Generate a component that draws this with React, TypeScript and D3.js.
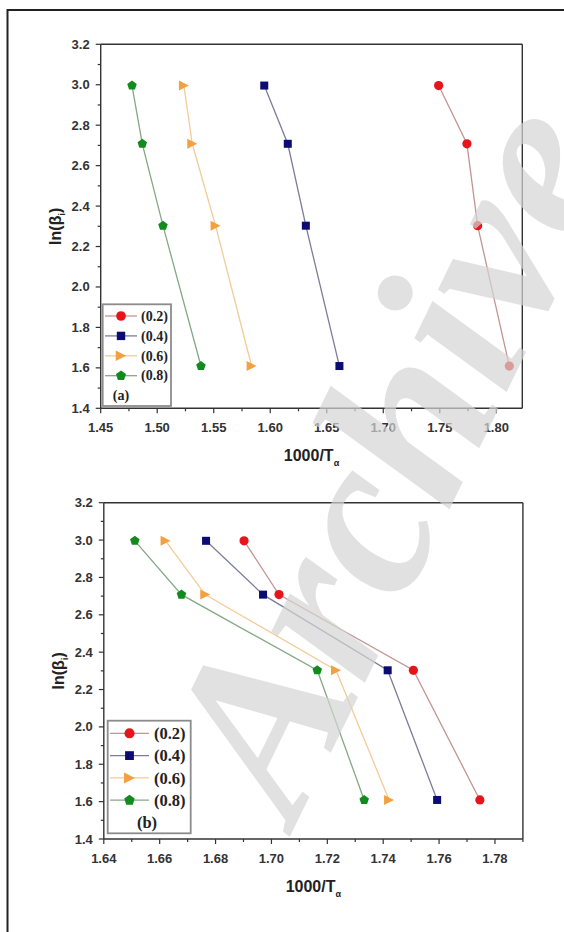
import React from "react";
import * as d3 from "d3";

// ---- data ----
const lnBeta = [2.996, 2.708, 2.303, 1.609];
const seriesNames = ["(0.2)", "(0.4)", "(0.6)", "(0.8)"];
const a02 = [1.749, 1.774, 1.7835, 1.8115];
const a04 = [1.5947, 1.6155, 1.6315, 1.6612];
const a06 = [1.5236, 1.531, 1.5516, 1.5835];
const a08 = [1.4777, 1.4868, 1.5051, 1.5387];
const b02 = [1.6902, 1.7027, 1.7508, 1.7746];
const b04 = [1.6766, 1.697, 1.7416, 1.7593];
const b06 = [1.6621, 1.6763, 1.7231, 1.7421];
const b08 = [1.6511, 1.6678, 1.7164, 1.7332];
const yTicks = [1.4, 1.6, 1.8, 2.0, 2.2, 2.4, 2.6, 2.8, 3.0, 3.2];
const xTicksA = [1.45, 1.5, 1.55, 1.6, 1.65, 1.7, 1.75, 1.8];
const xTicksB = [1.64, 1.66, 1.68, 1.7, 1.72, 1.74, 1.76, 1.78];

const markerColors = ["#e8141c", "#0b0b73", "#f3a140", "#128a1e"];
const lineColors = ["#c49494", "#7c7c9c", "#f2cc98", "#84a884"];
const shapes = ["circle", "square", "triangle", "pentagon"];

const AXIS = "#333";
const SANS = "'Liberation Sans', Arial, sans-serif";
const SERIF = "'Liberation Serif', 'Times New Roman', serif";

function Marker({ shape, x, y, color, s = 1 }: any) {
  if (shape === "circle") return <circle cx={x} cy={y} r={4.6 * s} fill={color} />;
  if (shape === "square")
    return <rect x={x - 4 * s} y={y - 4 * s} width={8 * s} height={8 * s} fill={color} />;
  if (shape === "triangle") {
    const h = 5 * s;
    return <path d={`M${x - h},${y - h}L${x + h},${y}L${x - h},${y + h}Z`} fill={color} />;
  }
  const pts = d3.range(5).map((i) => {
    const a = -Math.PI / 2 + (i * 2 * Math.PI) / 5;
    return `${x + 5 * s * Math.cos(a)},${y + 5 * s * Math.sin(a)}`;
  });
  return <polygon points={pts.join(" ")} fill={color} />;
}

function Panel({ xDomain, xRange, yRange, xTicks, xMinorStep, xFmt, series, legend }: any) {
  const x = d3.scaleLinear().domain(xDomain).range(xRange);
  const y = d3.scaleLinear().domain([1.4, 3.2]).range(yRange);
  const [x0, x1] = xRange;
  const [yb, yt] = yRange;
  const xMinor = d3.range(xDomain[0], xDomain[1] + 1e-9, xMinorStep);
  const yMinor = d3.range(1.4, 3.2 + 1e-9, 0.1);
  const line = d3
    .line<number>()
    .x((d) => x(d))
    .y((_, i) => y(lnBeta[i]));
  const cx = (x0 + x1) / 2;
  const cy = (yb + yt) / 2;
  return (
    <g>
      <line x1={x0} x2={x1} y1={yt} y2={yt} stroke={AXIS} strokeWidth={1.6} />
      <line x1={x1} x2={x1} y1={yt} y2={yb} stroke={AXIS} strokeWidth={1.4} />
      <line x1={x0} x2={x1} y1={yb} y2={yb} stroke={AXIS} strokeWidth={1.4} />
      <line x1={x0} x2={x0} y1={yt} y2={yb} stroke={AXIS} strokeWidth={1.4} />
      {yMinor.map((v: number, i: number) => (
        <line key={"ym" + i} x1={x0} x2={x0 - (i % 2 === 0 ? 5 : 3)} y1={y(v)} y2={y(v)} stroke={AXIS} strokeWidth={1.2} />
      ))}
      {xMinor.map((v: number, i: number) => (
        <line key={"xm" + i} x1={x(v)} x2={x(v)} y1={yb} y2={yb + (i % 2 === 0 ? 5 : 3)} stroke={AXIS} strokeWidth={1.2} />
      ))}
      {yTicks.map((v) => (
        <text key={"yt" + v} x={x0 - 11} y={y(v) + 4.5} textAnchor="end" fontFamily={SANS} fontWeight="bold" fontSize={13} fill="#333">
          {v.toFixed(1)}
        </text>
      ))}
      {xTicks.map((v: number) => (
        <text key={"xt" + v} x={x(v)} y={yb + 24} textAnchor="middle" fontFamily={SANS} fontWeight="bold" fontSize={13} fill="#333">
          {xFmt(v)}
        </text>
      ))}
      <text x={cx} y={yb + 53} textAnchor="middle" fontFamily={SANS} fontWeight="bold" fontSize={16} fill="#222">
        1000/T<tspan fontSize={9} dy={5}>α</tspan>
      </text>
      <text transform={`translate(${x0 - 40},${cy}) rotate(-90)`} textAnchor="middle" fontFamily={SANS} fontWeight="bold" fontSize={16} fill="#222">
        ln(β<tspan fontSize={9} dy={4}>i</tspan><tspan dy={-4}>)</tspan>
      </text>
      {series.map((s: number[], k: number) => (
        <g key={"s" + k}>
          <path d={line(s) || ""} fill="none" stroke={lineColors[k]} strokeWidth={1.3} />
          {s.map((v, i) => (
            <Marker key={i} shape={shapes[k]} x={x(v)} y={y(lnBeta[i])} color={markerColors[k]} />
          ))}
        </g>
      ))}
      <rect x={legend.x} y={legend.y} width={legend.w} height={legend.h} fill="#fff" stroke="#8c8c8c" strokeWidth={1.8} />
      {seriesNames.map((n, k) => {
        const yy = legend.y0 + k * legend.dy;
        return (
          <g key={"lg" + k}>
            <line x1={legend.l0} x2={legend.l1} y1={yy} y2={yy} stroke={lineColors[k]} strokeWidth={1.3} />
            <Marker shape={shapes[k]} x={(legend.l0 + legend.l1) / 2} y={yy} color={markerColors[k]} s={legend.ms} />
            <text x={legend.tx} y={yy + legend.fs * 0.34} fontFamily={SERIF} fontWeight="bold" fontSize={legend.fs} fill="#222">
              {n}
            </text>
          </g>
        );
      })}
      <text x={legend.labX} y={legend.y0 + 4 * legend.dy + legend.fs * 0.34} textAnchor="middle" fontFamily={SERIF} fontWeight="bold" fontSize={legend.fs} fill="#222">
        {legend.label}
      </text>
    </g>
  );
}

export default function App() {
  return (
    <svg width={564} height={932} style={{ position: "absolute", left: 0, top: 0, background: "#fff" }}>
      <rect x={0} y={0} width={564} height={932} fill="#fff" />
      <rect x={7.5} y={10} width={570} height={940} fill="none" stroke="#222" strokeWidth={2} />
      <Panel
        xDomain={[1.45, 1.823]}
        xRange={[100.7, 522.3]}
        yRange={[408.3, 44.3]}
        xTicks={xTicksA}
        xMinorStep={0.025}
        xFmt={(v: number) => v.toFixed(2)}
        series={[a02, a04, a06, a08]}
        legend={{ x: 102.7, y: 304.3, w: 68.3, h: 101.7, y0: 316, dy: 19.9, l0: 105, l1: 137, tx: 141, fs: 14, labX: 121, label: "(a)", ms: 1.05 }}
      />
      <Panel
        xDomain={[1.64, 1.79]}
        xRange={[103.8, 522.9]}
        yRange={[839, 502.7]}
        xTicks={xTicksB}
        xMinorStep={0.01}
        xFmt={(v: number) => v.toFixed(2)}
        series={[b02, b04, b06, b08]}
        legend={{ x: 107.7, y: 720.7, w: 83, h: 112.6, y0: 733.3, dy: 22.3, l0: 110, l1: 149, tx: 154, fs: 16.5, labX: 147, label: "(b)", ms: 1.1 }}
      />
      <text
        transform="translate(295,826) rotate(-64)"
        fontFamily={SERIF}
        fontStyle="italic"
        fontWeight="bold"
        fontSize={232}
        fill="#d4d4d4"
        fillOpacity={0.7}
      >
        Archive
      </text>
    </svg>
  );
}
